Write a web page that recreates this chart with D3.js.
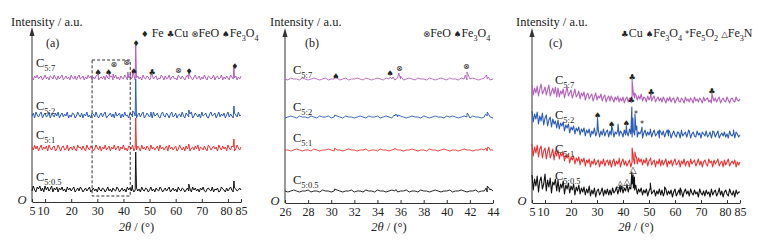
<!DOCTYPE html>
<html>
<head>
<meta charset="utf-8">
<script src="https://cdn.jsdelivr.net/npm/d3@7"></script>
<style>
  body { margin: 0; background: #fff; }
  svg, svg text, svg tspan { font-family: "Liberation Serif", "Times New Roman", "DejaVu Serif", serif; }
  svg text { fill: #222; white-space: pre; }
</style>
</head>
<body>
<div id="chart"></div>
<script>
// ---- data (intensity in a.u.) ----
const sampleLabels = ["C_{5:7}", "C_{5:2}", "C_{5:1}", "C_{5:0.5}"];
const colors = ["#b462bc", "#2c5cb6", "#ec3333", "#111111"];
const ticksWide = [5, 10, 20, 30, 40, 50, 60, 70, 80, 85];
const ticksNarrow = [26, 28, 30, 32, 34, 36, 38, 40, 42, 44];

// panel (a): 5-85 deg, 0.5 deg step
const thetaA = d3.range(5, 85.01, 0.5);
const a57 = [3,0,4,2,5,1,3,4,0,2,5,1,3,0,4,3,1,5,2,0, 4,1,3,5,0,2,4,1,3,0,5,2,1,4,0,3,5,1,2,4,
  0,3,1,5,2,4,0,3,1,4,5,0,2,3,1,4,0,5,2,1, 3,4,0,2,5,1,3,0,4,2,1,5,3,0,2,4,1,3,5,0,
  2,4,1,3,0,5,2,1,4,3,0,2,5,1,3,4,0,2,1,5, 3,0,4,1,2,5,0,3,4,1,2,0,5,3,1,4,2,0,3,5,
  1,4,2,0,3,5,1,2,4,0,3,1,5,2,0,4,3,1,2,5, 0,3,4,1,2,5,0,3,1,4,2,0,5,3,1,2,4,0,3,1, 4];
const a52 = [2,5,0,6,3,1,4,6,0,3,5,1,2,6,0,4,3,1,5,2, 6,0,3,5,1,4,2,6,0,3,1,5,4,0,2,6,3,1,5,0,
  4,2,6,1,3,0,5,4,1,6,2,0,3,5,1,4,6,0,2,3, 5,1,4,0,6,2,3,5,0,4,1,6,2,3,0,5,4,1,6,2,
  0,3,5,1,4,6,0,2,5,3,1,4,0,6,2,3,5,1,0,4, 6,2,1,5,3,0,4,6,1,2,5,0,3,4,1,6,2,0,5,3,
  1,4,6,0,2,5,3,1,4,0,6,2,3,5,1,0,4,6,2,3, 5,0,3,6,1,4,2,5,0,3,6,1,4,2,0,5,3,1,6,2, 3];
const a51 = [4,1,6,2,5,0,3,6,1,4,2,5,0,6,3,1,4,5,0,2, 6,3,0,4,5,1,2,6,0,3,4,1,5,2,0,6,3,4,1,5,
  2,0,6,3,1,5,4,0,2,6,3,1,5,0,4,2,6,1,3,5, 0,4,2,6,1,3,5,0,4,2,6,1,3,0,5,4,2,6,0,3,
  1,5,3,0,6,2,4,1,5,3,0,6,2,4,1,3,5,0,6,2, 4,1,3,5,0,6,2,4,1,3,5,0,2,6,3,1,4,0,5,2,
  6,0,3,4,1,5,2,6,0,4,3,1,5,2,0,6,4,1,3,5, 2,4,0,6,3,1,5,2,4,0,6,3,1,5,4,0,2,6,3,1, 4];
const a505 = [1,6,2,0,5,3,6,1,4,0,6,2,5,1,3,6,0,4,2,5, 0,4,2,5,1,3,0,5,2,4,1,3,5,0,2,4,1,5,3,0,
  2,4,1,3,5,0,2,4,1,3,0,5,2,1,4,3,0,2,5,1, 3,0,4,2,1,5,3,0,2,4,1,3,0,5,2,4,1,3,0,2,
  4,1,3,0,5,2,1,4,3,0,2,5,1,3,0,4,2,1,5,3, 0,2,4,1,3,5,0,2,4,1,3,0,5,2,1,4,3,0,2,4,
  1,3,0,5,2,4,1,3,0,4,2,5,1,0,3,4,2,1,5,0, 3,2,4,0,1,5,3,2,0,4,1,3,5,2,0,4,3,1,2,4, 2];
const peaksA57 = [[30.3,6],[34.6,6],[36.0,6],[41.7,8],[42.6,6],[43.5,9],[44.7,35],[50.5,6],[61.0,5],[65.0,7],[82.3,14]];
const peaksA52 = [[43.5,7],[44.7,39],[50.5,6],[65.0,8],[82.3,12]];
const peaksA51 = [[43.5,6],[44.7,33],[65.0,7],[82.3,12]];
const peaksA505 = [[43.4,7],[44.7,40],[65.0,8],[82.3,11]];
const offsetsA = [122, 84, 51, 10];
const marksA = [[30.3,130,"♠"],[34.3,130,"♠"],[36.3,138,"⊗"],[41.2,140,"⊗"],[44.0,131,"♠"],[44.8,159,"♦"],
  [51.0,130,"♣"],[61.0,132,"⊗"],[65.1,131,"♦"],[82.6,136,"♦"]];

// panel (b): 26-44 deg, 0.25 deg step
const thetaB = d3.range(26, 44.001, 0.25);
const b57 = [1,0,2,1,1,0,2,1,0,1, 2,1,0,1,2,0,1,1,2,0, 1,2,0,1,1,2,1,0,2,1, 0,1,2,1,0,2,1,1,0,2,
  1,0,1,2,1,0,2,1,1,0, 2,1,0,1,2,1,0,2,1,1, 0,2,1,0,1,2,1,0,1,2, 1,0,1];
const b52 = [0,1,2,1,0,2,1,1,0,2, 1,0,2,1,1,2,0,1,2,1, 0,2,1,1,0,1,2,1,0,2, 1,1,2,0,1,2,1,0,2,1,
  2,1,0,1,2,1,1,0,2,1, 0,1,2,1,1,0,2,1,2,1, 0,1,2,1,0,2,1,1,0,1, 2,1,0];
const b51 = [1,1,0,1,2,1,0,1,1,0, 2,1,0,1,1,2,1,0,1,1, 0,1,2,1,1,0,1,1,2,0, 1,1,0,2,1,1,0,1,2,1,
  1,0,1,1,2,1,0,1,1,0, 2,1,1,0,1,2,1,0,1,1, 0,1,2,1,1,0,1,1,2,1, 0,1,1];
const b505 = [1,0,1,2,1,0,1,1,2,0, 1,1,0,2,1,1,0,1,2,1, 0,1,1,2,0,1,1,0,2,1, 1,0,2,1,1,0,1,2,1,0,
  1,1,2,0,1,1,0,2,1,1, 0,1,2,1,0,1,1,2,0,1, 1,2,1,0,1,1,2,0,1,1, 0,2,1];
const peaksB57 = [[30.35,3],[35.1,3],[35.35,3],[35.85,7],[36.0,4],[41.6,5],[41.75,8],[41.9,4],[43.3,3],[43.45,5],[43.6,3]];
const peaksB52 = [[30.3,3],[35.45,3],[35.6,4],[35.75,3],[41.75,5],[41.85,4],[43.35,4],[43.5,6],[43.65,3]];
const peaksB51 = [[30.3,3],[35.5,2.5],[43.4,3],[43.55,4],[43.7,3]];
const peaksB505 = [[30.3,3],[35.6,2.5],[43.4,4],[43.5,6],[43.65,4],[43.8,3]];
const offsetsB = [123, 85, 52, 11];
const marksB = [[30.4,127,"♠"],[35.1,130,"♠"],[35.9,135,"⊗"],[41.7,137,"⊗"]];

// panel (c): 5-85 deg, 0.5 deg step, sloping background
const thetaC = d3.range(5, 85.01, 0.5);
const c57 = [18,8,15,10,17,7,14,19,9,12,16,8,13,18,7,11,15,9,16,6, 15,6,12,9,14,5,11,16,7,10,13,5,9,14,6,8,12,4,10,7,
  11,3,8,10,4,7,9,2,6,10,3,7,5,9,2,6,8,1,5,7, 2,7,4,1,6,3,7,1,5,2,6,0,4,6,1,5,3,7,9,5,
  8,3,7,4,9,2,6,5,1,7,3,6,2,5,7,1,4,6,2,5, 1,6,3,0,5,2,6,1,4,5,0,3,6,2,1,5,3,0,6,2,
  4,1,5,3,0,6,2,4,1,5,3,0,6,2,4,5,1,3,0,6, 2,5,1,4,6,0,3,5,2,1,6,3,0,4,5,2,1,6,3,2, 4];
const c52 = [27,16,24,19,26,14,22,17,25,13,20,23,12,18,21,11,19,14,17,10, 18,9,15,12,16,7,13,10,14,5,11,8,12,4,10,7,11,3,9,6,
  10,2,8,5,9,1,7,4,10,2,6,8,1,7,3,9,2,6,8,1, 7,3,9,1,6,4,8,2,7,5,1,8,3,6,2,9,4,1,7,3,
  8,1,6,4,7,0,5,8,2,6,3,7,1,5,8,2,4,7,0,6, 3,7,1,5,8,2,6,0,4,7,3,1,6,5,0,8,2,4,6,1,
  5,7,0,4,6,2,1,7,3,5,0,6,4,2,7,1,3,6,0,5, 6,1,4,7,0,3,5,2,6,1,4,0,7,3,2,5,0,6,4,1, 3];
const c51 = [23,11,20,14,22,10,18,21,9,16,19,8,15,20,9,13,18,7,16,11, 17,8,14,11,15,6,12,9,13,4,10,7,11,3,9,6,10,2,8,5,
  9,1,7,4,8,0,6,3,8,2,5,7,0,6,3,8,1,5,7,2, 7,0,5,8,1,6,3,7,0,5,8,2,6,1,4,7,0,5,8,3,
  10,3,9,5,8,2,7,4,9,1,6,8,2,5,7,0,6,3,8,1, 7,2,5,8,0,6,3,7,1,5,8,2,4,7,0,6,3,8,1,5,
  6,0,8,3,5,7,1,4,8,2,6,0,5,7,3,1,8,4,6,0, 7,3,5,8,1,4,6,0,7,2,5,8,1,4,6,3,7,0,5,2, 5];
const c505 = [22,7,18,11,21,5,16,20,8,13,23,6,17,10,19,4,15,12,18,6, 17,5,13,9,16,3,12,8,14,4,11,7,13,2,10,6,12,3,9,5,
  10,2,8,4,11,1,7,3,9,0,6,8,2,5,9,1,7,3,8,2, 7,2,9,4,6,10,3,8,5,11,4,9,6,12,5,10,8,13,9,7,
  10,3,8,5,9,2,7,4,8,1,6,9,3,5,7,1,6,3,8,2, 7,1,5,8,2,6,3,7,0,5,8,1,4,7,2,6,0,5,8,3,
  6,1,8,4,2,7,3,5,0,8,4,2,6,1,7,3,5,0,8,2, 5,7,1,4,8,2,6,0,5,7,3,1,8,4,2,6,0,7,3,5, 5];
const peaksC57 = [[43.5,23],[43.9,12],[44.5,10],[50.7,9],[74.2,9]];
const peaksC52 = [[30.2,20],[35.6,12],[38.1,14],[41.3,12],[43.4,31],[43.8,20],[44.6,24],[45.3,12],[47.3,11],
  [50.5,9],[54.0,8],[57.5,8],[62.5,7],[65.2,8],[74.5,7],[82.5,8]];
const peaksC51 = [[38.5,9],[43.5,19],[43.9,13],[44.6,15],[45.2,10],[50.6,9]];
const peaksC505 = [[38.9,12],[41.5,13],[43.4,25],[43.9,22],[44.4,20],[44.9,12],[50.5,14],[56.0,10],[62.0,9],[77.0,9]];
const offsetsC = [100, 65, 36, 6];
const marksC = [[43.5,126,"♣"],[50.8,111,"♣"],[74.2,112,"♣"],[30.2,88,"♠"],[35.6,79,"♠"],[41.3,80,"♠"],
  [43.2,103,"♣"],[45.0,89,"*"],[47.3,79,"*"],[38.9,20,"△"],[41.5,22,"△"],[43.8,34,"△"]];

const legendA = "^{♦} Fe ^{♣}Cu ^{⊗}FeO ^{♠}Fe_{3}O_{4}";
const legendB = "^{⊗}FeO ^{♠}Fe_{3}O_{4}";
const legendC = "^{♣}Cu ^{♠}Fe_{3}O_{4} ^{*}Fe_{5}O_{2} ^{△}Fe_{3}N";

// ---- drawing ----
const serif = "Liberation Serif, Times New Roman, DejaVu Serif, serif";
const svg = d3.select("#chart").append("svg")
    .attr("width", 760)
    .attr("height", 240)
    .attr("font-family", serif);

// text with _{sub} and ^{symbol} pieces
function rich(sel, str, fs, symFs) {
  const re = /([_^])\{([^}]*)\}/g;
  let last = 0, m, shift = 0;
  const put = (txt, size, target, fam) => {
    const t = sel.append("tspan").attr("font-size", size).attr("dy", target - shift).text(txt);
    t.style("font-family", fam || serif);
    shift = target;
  };
  while ((m = re.exec(str)) !== null) {
    if (m.index > last) put(str.slice(last, m.index), fs, 0);
    if (m[1] === "_") put(m[2], fs * 0.68, fs * 0.3);
    else put(m[2], symFs, 0, "DejaVu Sans");
    last = re.lastIndex;
  }
  if (last < str.length) put(str.slice(last), fs, 0);
}

function drawPanel(p) {
  const x = d3.scaleLinear().domain(p.dom).range(p.xr);
  const y = d3.scaleLinear().domain([0, 175]).range([p.yb, p.yb - 175]);
  const g = svg.append("g");

  // x axis, inward ticks
  const ax = g.append("g")
      .attr("transform", "translate(0," + p.yb + ")")
      .call(d3.axisBottom(x).tickValues(p.ticks).tickSizeInner(-3).tickSizeOuter(0).tickPadding(4))
      .attr("font-family", serif);
  ax.select(".domain").attr("stroke", "#333");
  ax.selectAll(".tick line").attr("stroke", "#333");
  ax.selectAll(".tick text")
      .attr("font-size", 12)
      .style("font-family", serif)
      .attr("fill", "#222")
      .attr("dx", d => (d === 80 || d === 10) ? -2 : 0);

  // y axis with arrow
  g.append("line")
      .attr("x1", p.xr[0]).attr("x2", p.xr[0])
      .attr("y1", p.yb).attr("y2", p.yb - 168)
      .attr("stroke", "#333");
  const tip = p.yb - 175;
  g.append("path")
      .attr("d", `M${p.xr[0]},${tip} L${p.xr[0] - 2.5},${tip + 9} L${p.xr[0] + 2.5},${tip + 9} Z`)
      .attr("fill", "#333");

  g.append("text").attr("x", p.xr[0] - 10).attr("y", p.yb + 2)
      .attr("text-anchor", "middle").attr("font-size", 12.5).attr("font-style", "italic").text("O");
  g.append("text").attr("x", p.titleX).attr("y", 26).attr("font-size", 12.5).text("Intensity / a.u.");
  g.append("text").attr("x", p.tagX).attr("y", 47).attr("font-size", 12).text(p.tag);

  const xt = g.append("text").attr("x", (p.xr[0] + p.xr[1]) / 2).attr("y", 231)
      .attr("text-anchor", "middle").attr("font-size", 12.5);
  xt.append("tspan").attr("font-style", "italic").text("2θ");
  xt.append("tspan").text(" / (°)");

  rich(g.append("text").attr("x", p.legendX).attr("y", 37), p.legend, 12, 8.5);

  // traces
  const line = d3.line().x(d => x(d[0])).y(d => y(d[1]));
  p.series.forEach((vals, i) => {
    const pts = p.theta.map((t, j) => [t, vals[j]]).concat(p.peaks[i])
        .sort((u, v) => u[0] - v[0])
        .map(d => [d[0], d[1] + p.offsets[i]]);
    g.append("path")
        .datum(pts)
        .attr("fill", "none")
        .attr("stroke", colors[i])
        .attr("stroke-width", p.lw)
        .attr("stroke-linejoin", "round")
        .attr("d", line);
    rich(g.append("text").attr("x", p.labels[i][0]).attr("y", p.labels[i][1]), sampleLabels[i], 12.5, 8);
  });

  // phase markers
  g.selectAll(".mk")
      .data(p.marks)
      .join("text")
      .attr("x", d => x(d[0]))
      .attr("y", d => y(d[1]))
      .attr("text-anchor", "middle")
      .attr("dominant-baseline", "central")
      .style("font-family", "DejaVu Sans")
      .attr("font-size", d => d[2] === "△" ? 9.5 : 8)
      .text(d => d[2]);

  return {g, x, y};
}

const pa = drawPanel({
  xr: [32, 241], yb: 202, dom: [5, 85], ticks: ticksWide, theta: thetaA, lw: 1,
  series: [a57, a52, a51, a505], peaks: [peaksA57, peaksA52, peaksA51, peaksA505],
  offsets: offsetsA, marks: marksA, legend: legendA, tag: "(a)",
  titleX: 11, tagX: 46, legendX: 141,
  labels: [[36, 67], [36, 110], [36, 139], [36, 181]]
});

// dashed zoom window (28-42.6 deg)
pa.g.append("rect")
    .attr("x", pa.x(28)).attr("y", pa.y(142))
    .attr("width", pa.x(42.6) - pa.x(28)).attr("height", pa.y(6) - pa.y(142))
    .attr("fill", "none").attr("stroke", "#333").attr("stroke-dasharray", "3,2");

drawPanel({
  xr: [285, 493], yb: 203, dom: [26, 44], ticks: ticksNarrow, theta: thetaB, lw: 0.9,
  series: [b57, b52, b51, b505], peaks: [peaksB57, peaksB52, peaksB51, peaksB505],
  offsets: offsetsB, marks: marksB, legend: legendB, tag: "(b)",
  titleX: 270, tagX: 305, legendX: 423,
  labels: [[293, 74], [293, 111], [293, 142], [293, 184]]
});

drawPanel({
  xr: [532, 740], yb: 203, dom: [5, 85], ticks: ticksWide, theta: thetaC, lw: 1.1,
  series: [c57, c52, c51, c505], peaks: [peaksC57, peaksC52, peaksC51, peaksC505],
  offsets: offsetsC, marks: marksC, legend: legendC, tag: "(c)",
  titleX: 516, tagX: 549, legendX: 621,
  labels: [[555, 84], [555, 119], [555, 153], [555, 180]]
});
</script>
</body>
</html>
